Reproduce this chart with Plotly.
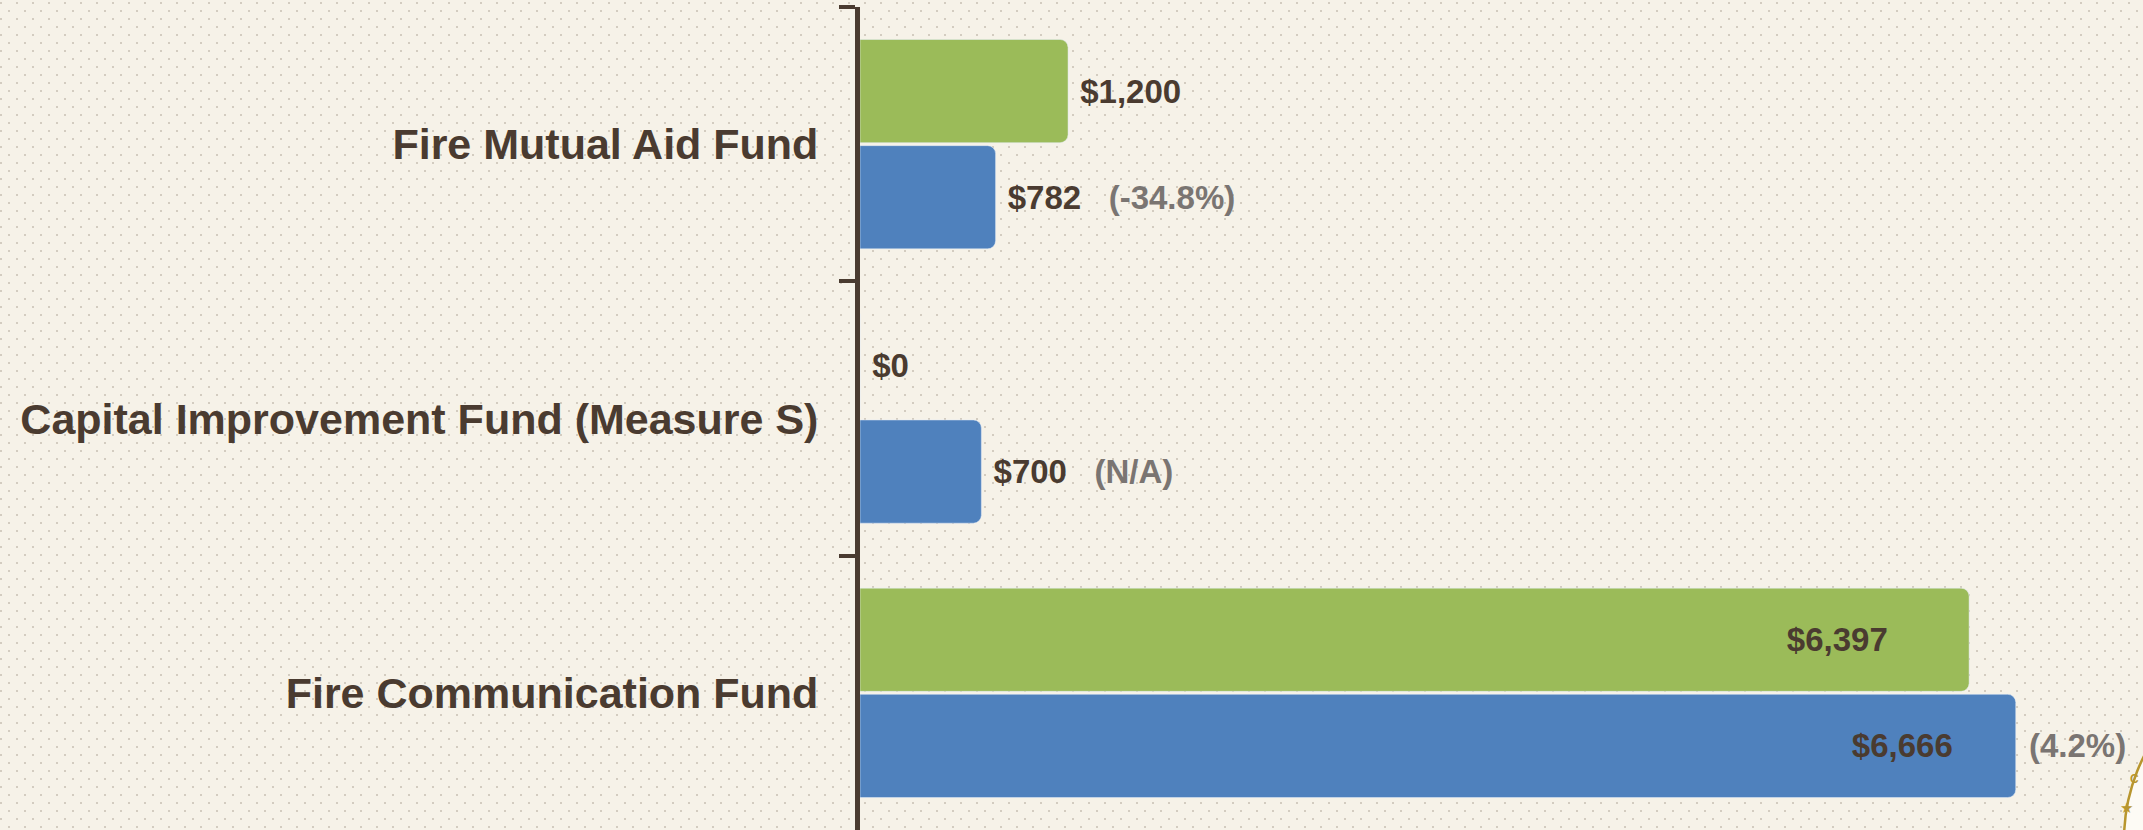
import plotly.graph_objects as go
from urllib.parse import quote

# ---- data ----
funds = ["Fire Mutual Aid Fund", "Capital Improvement Fund (Measure S)", "Fire Communication Fund"]
green_vals = [1200, 0, 6397]
blue_vals = [782, 700, 6666]
pct_labels = ["(-34.8%)", "(N/A)", "(4.2%)"]

# ---- style ----
W, H = 2143, 830
ML, MR, MT, MB = 860, 0, 7, 0
PW, PH = W - ML - MR, H - MT - MB
BG = "#f6f2e8"
DOT = "#d3ccc0"
BROWN = "#4a3b30"
GRAY = "#7a7572"
GREEN = "#9bbb59"
BLUE = "#4f81bd"
GOLD = "#b8962e"
FONT = "Liberation Sans, Arial, sans-serif"
NB = "\u00a0"
XMAX = 7400
VAL_SIZE = 33

green_pos = ["outside" if v < 3000 else "inside" for v in green_vals]
blue_pos = ["outside" if v < 3000 else "inside" for v in blue_vals]
green_text = [NB + f"${v:,}" if p == "outside" else f"${v:,}" + NB * 8 for v, p in zip(green_vals, green_pos)]
blue_text = [
    (NB + f"${v:,}" + NB * 2 + f" <span style='color:{GRAY}'>{pc}</span>") if p == "outside" else f"${v:,}" + NB * 6
    for v, p, pc in zip(blue_vals, blue_pos, pct_labels)
]

fig = go.Figure()
fig.add_trace(go.Bar(
    y=funds, x=green_vals, orientation="h", marker=dict(color=GREEN, cornerradius=8),
    text=green_text, textposition=green_pos, insidetextanchor="end",
    textfont=dict(family=FONT, size=VAL_SIZE, color=BROWN, weight="bold"),
    constraintext="none", cliponaxis=False, showlegend=False, hoverinfo="skip",
))
fig.add_trace(go.Bar(
    y=funds, x=blue_vals, orientation="h", marker=dict(color=BLUE, cornerradius=8),
    text=blue_text, textposition=blue_pos, insidetextanchor="end",
    textfont=dict(family=FONT, size=VAL_SIZE, color=BROWN, weight="bold"),
    constraintext="none", cliponaxis=False, showlegend=False, hoverinfo="skip",
))

# percent labels for bars whose value label sits inside
for f, v, p, pc in zip(funds, blue_vals, blue_pos, pct_labels):
    if p == "inside":
        fig.add_annotation(x=v, y=f, xref="x", yref="y", text=pc, showarrow=False,
                           xanchor="left", xshift=11, yshift=-53,
                           font=dict(family=FONT, size=VAL_SIZE, color=GRAY, weight="bold"))

# dotted background
svg = (
    f"<svg xmlns='http://www.w3.org/2000/svg' width='{W}' height='{H}'>"
    "<defs><pattern id='p' width='16' height='16' patternUnits='userSpaceOnUse'>"
    f"<rect x='0' y='2' width='2' height='2' fill='{DOT}'/>"
    f"<rect x='8' y='10' width='2' height='2' fill='{DOT}'/>"
    "</pattern></defs>"
    f"<rect width='100%' height='100%' fill='{BG}'/>"
    "<rect width='100%' height='100%' fill='url(#p)'/></svg>"
)
fig.add_layout_image(dict(
    source="data:image/svg+xml;charset=utf-8," + quote(svg),
    xref="paper", yref="paper",
    x=-ML / PW, y=1 + MT / PH, sizex=W / PW, sizey=H / PH,
    xanchor="left", yanchor="top", sizing="stretch", layer="below",
))

# partial seal at bottom-right corner
def px2paper(px, py):
    return (px - ML) / PW, (H - MB - py) / PH

cx, cy, R = 2310, 840, 186
x0, y0 = px2paper(cx - R, cy + R)
x1, y1 = px2paper(cx + R, cy - R)
fig.add_shape(type="circle", xref="paper", yref="paper", x0=x0, y0=y0, x1=x1, y1=y1,
              line=dict(color=GOLD, width=2.5), fillcolor="#fdfbf5", layer="above")
sx, sy = px2paper(2135, 818)
fig.add_annotation(x=sx, y=sy, xref="paper", yref="paper", text="★", showarrow=False,
                   font=dict(size=15, color=GOLD))
tx, ty = px2paper(2141, 788)
fig.add_annotation(x=tx, y=ty, xref="paper", yref="paper", text="C", showarrow=False,
                   font=dict(size=12, color=GOLD, weight="bold"))

fig.update_layout(
    width=W, height=H,
    margin=dict(l=ML, r=MR, t=MT, b=MB, pad=0),
    paper_bgcolor=BG, plot_bgcolor="rgba(0,0,0,0)",
    barmode="group", bargap=0.226, bargroupgap=0.028,
    font=dict(family=FONT, color=BROWN),
    xaxis=dict(visible=False, range=[0, XMAX], fixedrange=True),
    yaxis=dict(
        autorange="reversed", showline=True, linecolor=BROWN, linewidth=5,
        ticks="outside", ticklen=16, tickwidth=4, tickcolor=BROWN, tickson="boundaries",
        tickfont=dict(family=FONT, size=43, color=BROWN, weight="bold"),
        showgrid=False, zeroline=False, ticklabelstandoff=28, fixedrange=True,
    ),
)

fig.write_html(
    "out.html",
    config={"displayModeBar": False},
    post_script="document.body.style.margin='0px';document.body.style.background='#f6f2e8';",
)
